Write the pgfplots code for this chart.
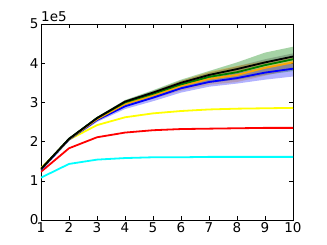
\documentclass[border=0pt]{standalone}
\usepackage{fontspec}
\setmainfont{DejaVu Sans}
\usepackage{pgfplots}
\pgfplotsset{compat=1.18}
\usepgfplotslibrary{fillbetween}
\definecolor{mgreen}{rgb}{0,0.5,0}
\definecolor{morange}{rgb}{1,0.647,0}
\definecolor{mcyan}{rgb}{0,1,1}
\definecolor{myellow}{rgb}{1,1,0}
\definecolor{mred}{rgb}{1,0,0}
\definecolor{mblue}{rgb}{0,0,1}
\begin{document}
\begin{tikzpicture}[x=1pt,y=1pt]
\begin{axis}[
  scale only axis, width=252pt, height=196pt,
  xmin=1, xmax=10, ymin=0, ymax=5,
  xtick={1,...,10}, ytick={0,1,2,3,4,5},
  tick align=inside, tick pos=both,
  major tick length=4pt,
  tick style={black, line width=0.5pt},
  axis line style={line width=0.8pt},
  /pgf/number format/assume math mode=true,
  tick label style={font=\fontsize{13.5}{15}\selectfont},
  xticklabel style={yshift=1pt},
  yticklabel style={xshift=1pt},
]
% bands
\addplot[name path=gu, draw=none, forget plot] coordinates {(1,1.31)(2,2.09)(3,2.63)(4,3.06)(5,3.31)(6,3.58)(7,3.8)(8,4.02)(9,4.27)(10,4.42)};
\addplot[name path=gl, draw=none, forget plot] coordinates {(1,1.29)(2,2.05)(3,2.56)(4,2.93)(5,3.13)(6,3.34)(7,3.5)(8,3.58)(9,3.7)(10,3.8)};
\addplot[mgreen, opacity=0.35, forget plot] fill between[of=gu and gl];
\addplot[name path=ou, draw=none, forget plot] coordinates {(1,1.31)(2,2.08)(3,2.6)(4,3.02)(5,3.27)(6,3.55)(7,3.78)(8,3.93)(9,4.05)(10,4.15)};
\addplot[name path=ol, draw=none, forget plot] coordinates {(1,1.29)(2,2.04)(3,2.53)(4,2.9)(5,3.09)(6,3.3)(7,3.45)(8,3.52)(9,3.68)(10,3.85)};
\addplot[morange, opacity=0.35, forget plot] fill between[of=ou and ol];
\addplot[name path=bu, draw=none, forget plot] coordinates {(1,1.29)(2,2.07)(3,2.58)(4,2.95)(5,3.2)(6,3.45)(7,3.62)(8,3.75)(9,3.9)(10,4.0)};
\addplot[name path=bl, draw=none, forget plot] coordinates {(1,1.27)(2,2.02)(3,2.5)(4,2.83)(5,3.03)(6,3.25)(7,3.4)(8,3.48)(9,3.58)(10,3.66)};
\addplot[mblue, opacity=0.3, forget plot] fill between[of=bu and bl];
\addplot[name path=ku, draw=none, forget plot] coordinates {(1,1.31)(2,2.08)(3,2.62)(4,3.05)(5,3.29)(6,3.55)(7,3.76)(8,3.92)(9,4.1)(10,4.25)};
\addplot[name path=kl, draw=none, forget plot] coordinates {(1,1.29)(2,2.06)(3,2.58)(4,2.99)(5,3.21)(6,3.45)(7,3.64)(8,3.78)(9,3.94)(10,4.09)};
\addplot[black, opacity=0.2, forget plot] fill between[of=ku and kl];
% lines
\addplot[mcyan, line width=1.8pt] coordinates {(1,1.08)(2,1.43)(3,1.54)(4,1.58)(5,1.6)(6,1.6)(7,1.61)(8,1.61)(9,1.61)(10,1.61)};
\addplot[mred, line width=1.8pt] coordinates {(1,1.23)(2,1.83)(3,2.11)(4,2.23)(5,2.29)(6,2.32)(7,2.33)(8,2.34)(9,2.35)(10,2.35)};
\addplot[myellow, line width=1.8pt] coordinates {(1,1.32)(2,2.05)(3,2.42)(4,2.62)(5,2.72)(6,2.78)(7,2.82)(8,2.84)(9,2.85)(10,2.86)};
\addplot[mblue, line width=1.8pt] coordinates {(1,1.28)(2,2.05)(3,2.55)(4,2.9)(5,3.12)(6,3.36)(7,3.52)(8,3.62)(9,3.76)(10,3.86)};
\addplot[morange, line width=1.8pt] coordinates {(1,1.3)(2,2.06)(3,2.57)(4,2.96)(5,3.18)(6,3.42)(7,3.6)(8,3.7)(9,3.88)(10,4.02)};
\addplot[mgreen, line width=1.8pt] coordinates {(1,1.3)(2,2.07)(3,2.6)(4,3.0)(5,3.22)(6,3.46)(7,3.65)(8,3.77)(9,3.95)(10,4.1)};
\addplot[black, line width=1.8pt] coordinates {(1,1.3)(2,2.07)(3,2.6)(4,3.02)(5,3.25)(6,3.5)(7,3.7)(8,3.85)(9,4.02)(10,4.17)};
\end{axis}
\node[anchor=south west, inner sep=0pt, font=\fontsize{13.5}{15}\selectfont] at ([yshift=2pt]current axis.north west) {1e5};
\path (current axis.south west) ++(-41pt,-25pt) coordinate (bl);
\path (current axis.north east) ++(34pt,24pt) coordinate (tr);
\useasboundingbox (bl) rectangle (tr);
\end{tikzpicture}
\end{document}
